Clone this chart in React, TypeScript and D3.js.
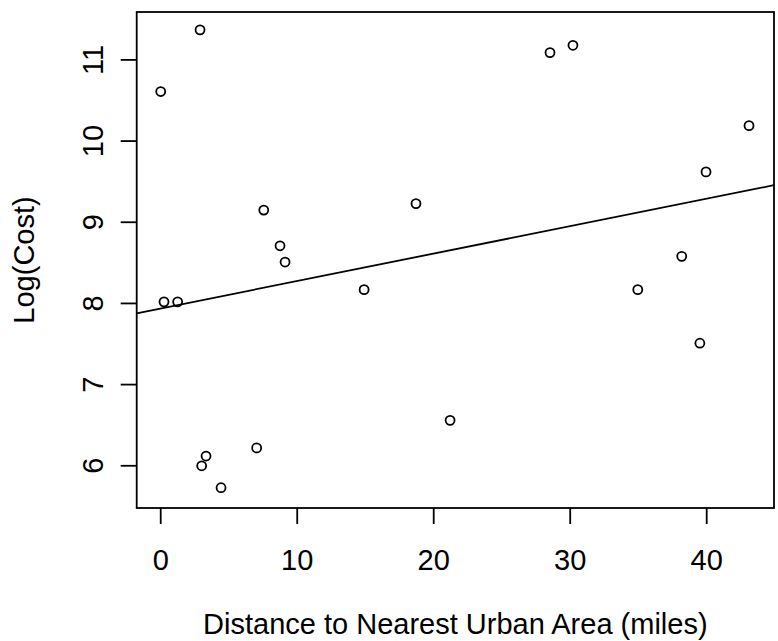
import React from "react";
import * as d3 from "d3";

const distance = [0, 2.88, 7.55, 8.74, 9.11, 14.9, 0.24, 1.24, 3.0, 3.32, 4.42, 7.03, 18.7, 21.2, 28.52, 30.2, 34.95, 38.17, 39.5, 39.95, 43.1];
const logCost = [10.61, 11.37, 9.15, 8.71, 8.51, 8.17, 8.02, 8.02, 6.0, 6.12, 5.73, 6.22, 9.23, 6.56, 11.09, 11.18, 8.17, 8.58, 7.51, 9.62, 10.19];
const xTicks = [0, 10, 20, 30, 40];
const yTicks = [6, 7, 8, 9, 10, 11];
const xLabel = "Distance to Nearest Urban Area (miles)";
const yLabel = "Log(Cost)";

const W = 778;
const H = 641;
const L = 136.7, R = 774, T = 12, B = 508;
const FONT = "'Liberation Sans', Arial, Helvetica, sans-serif";
const FS = 29;

export default function App() {
  const x = d3.scaleLinear().domain([-1.76, 44.93]).range([L, R]);
  const y = d3.scaleLinear().domain([5.48, 11.59]).range([B, T]);

  const mx = d3.mean(distance)!;
  const my = d3.mean(logCost)!;
  const sxy = d3.sum(distance, (d, i) => (d - mx) * (logCost[i] - my));
  const sxx = d3.sum(distance, (d) => (d - mx) * (d - mx));
  const slope = sxy / sxx;
  const intercept = my - slope * mx;
  const [x0, x1] = x.domain();
  const line = d3.line<number>().x((d) => x(d)).y((d) => y(intercept + slope * d));

  const pts = distance.map((d, i) => ({ d, c: logCost[i] }));

  return (
    <svg width={W} height={H} style={{ position: "absolute", left: 0, top: 0, background: "#fff" }}>
      <defs>
        <clipPath id="plotclip">
          <rect x={L} y={T} width={R - L} height={B - T} />
        </clipPath>
      </defs>
      <rect x={0} y={0} width={W} height={H} fill="#fff" />
      <rect x={L} y={T} width={R - L} height={B - T} fill="none" stroke="#000" strokeWidth={1.8} />
      {xTicks.map((t) => (
        <g key={"x" + t}>
          <line x1={x(t)} x2={x(t)} y1={B} y2={B + 16} stroke="#000" strokeWidth={1.8} />
          <text x={x(t)} y={570} textAnchor="middle" fontFamily={FONT} fontSize={FS} fill="#000">{t}</text>
        </g>
      ))}
      {yTicks.map((t) => (
        <g key={"y" + t}>
          <line x1={L - 16} x2={L} y1={y(t)} y2={y(t)} stroke="#000" strokeWidth={1.8} />
          <text transform={`translate(${103},${y(t)}) rotate(-90)`} textAnchor="middle" fontFamily={FONT} fontSize={FS} fill="#000">{t}</text>
        </g>
      ))}
      <text x={(L + R) / 2} y={634} textAnchor="middle" fontFamily={FONT} fontSize={FS} fill="#000">{xLabel}</text>
      <text transform={`translate(${34.4},${(T + B) / 2}) rotate(-90)`} textAnchor="middle" fontFamily={FONT} fontSize={FS} fill="#000">{yLabel}</text>
      <path d={line([x0, x1]) || ""} fill="none" stroke="#000" strokeWidth={1.8} clipPath="url(#plotclip)" />
      {pts.map((p, i) => (
        <circle key={i} cx={x(p.d)} cy={y(p.c)} r={4.5} fill="none" stroke="#000" strokeWidth={1.8} />
      ))}
    </svg>
  );
}
